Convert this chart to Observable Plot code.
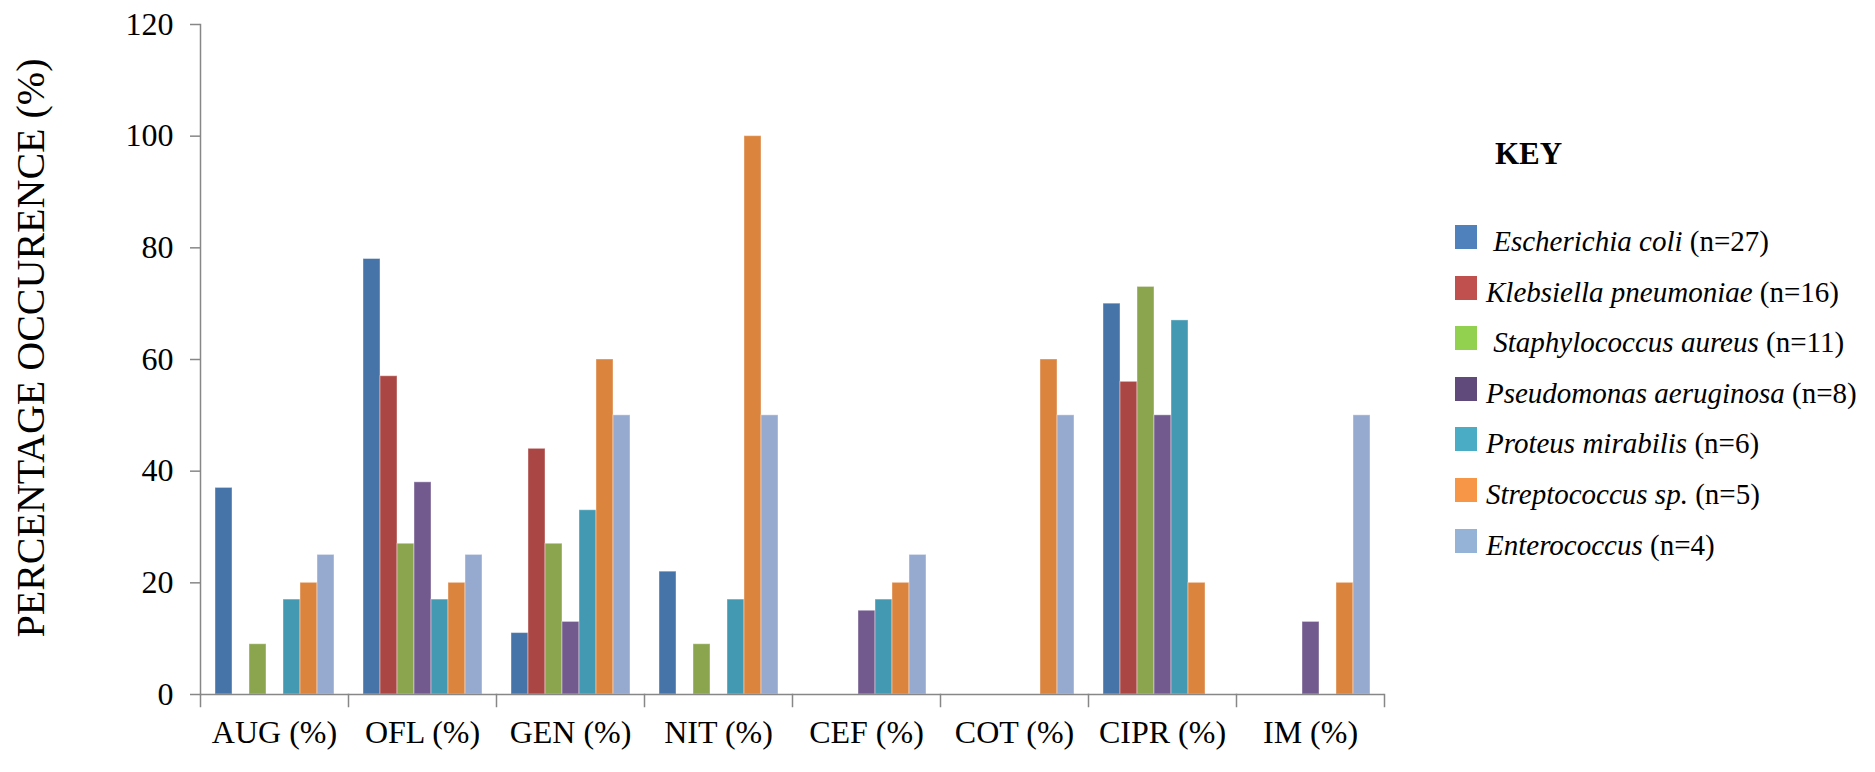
<!DOCTYPE html>
<html>
<head>
<meta charset="utf-8">
<script src="https://cdn.jsdelivr.net/npm/d3@7"></script>
<script src="https://cdn.jsdelivr.net/npm/@observablehq/plot@0.6"></script>
<style>
  html, body { margin: 0; padding: 0; background: #fff; }
  #wrap { position: relative; width: 1875px; height: 772px; font-family: "Liberation Serif", "Times New Roman", serif; color: #000; }
  #chart { position: absolute; left: 0; top: 0; }
  #ytitle { position: absolute; left: -289px; top: 328px; width: 640px; height: 40px; line-height: 40px;
            font-size: 40px; text-align: center; transform: rotate(-90deg); white-space: nowrap; }
  #key { position: absolute; left: 1495px; top: 138px; font-size: 31px; line-height: 31px; font-weight: bold; }
  .row { position: absolute; left: 1455px; height: 24px; display: flex; align-items: flex-start; white-space: pre; }
  .sw { width: 22px; height: 24px; flex: none; }
  .lbl { font-size: 29px; line-height: 24px; padding-top: 4px; margin-left: 9px; }
</style>
</head>
<body>
<div id="wrap">
  <div id="chart"></div>
  <div id="ytitle">PERCENTAGE OCCURENCE (%)</div>
  <div id="key">KEY</div>
  <div id="legend"></div>
</div>
<script>
// Antibiotic categories (x axis)
const categories = ["AUG (%)", "OFL (%)", "GEN (%)", "NIT (%)", "CEF (%)", "COT (%)", "CIPR (%)", "IM (%)"];
// Organisms (series) and their sample sizes
const species = ["Escherichia coli", "Klebsiella pneumoniae", "Staphylococcus aureus", "Pseudomonas aeruginosa", "Proteus mirabilis", "Streptococcus sp.", "Enterococcus"];
const sampleSizes = [27, 16, 11, 8, 6, 5, 4];
const legendPrefix = [" ", "", " ", "", "", "", ""];
// Percentage occurrence per antibiotic, one array per organism
const ecoli        = [37, 78, 11, 22, 0, 0, 70, 0];
const klebsiella   = [0, 57, 44, 0, 0, 0, 56, 0];
const staph        = [9, 27, 27, 9, 0, 0, 73, 0];
const pseudomonas  = [0, 38, 13, 0, 15, 0, 50, 13];
const proteus      = [17, 17, 33, 17, 17, 0, 67, 0];
const strep        = [20, 20, 60, 100, 20, 60, 20, 20];
const enterococcus = [25, 25, 50, 50, 25, 50, 0, 50];
const yTicks = [0, 20, 40, 60, 80, 100, 120];

const seriesValues = [ecoli, klebsiella, staph, pseudomonas, proteus, strep, enterococcus];
const barColors = ["#4674A8", "#AA4643", "#8BA54E", "#725A8E", "#4399B1", "#DB843D", "#96AACF"];
const keyColors = ["#4F81BD", "#C0504D", "#92D050", "#604A7B", "#4BACC6", "#F79646", "#95B3D7"];

const table = [];
species.forEach((s, j) => categories.forEach((c, i) => table.push({cat: c, species: s, value: seriesValues[j][i]})));

const W = 1875, H = 772, mL = 197, mR = 488, mT = 24, mB = 78;
const innerH = H - mT - mB;
const axisGray = "#878787";

const chart = Plot.plot({
  width: W, height: H,
  marginLeft: mL, marginRight: mR, marginTop: mT, marginBottom: mB,
  style: {fontFamily: "'Liberation Serif', 'Times New Roman', serif", background: "white", color: "black"},
  fx: {domain: categories, padding: 0, label: null},
  x: {domain: species, paddingInner: 0, paddingOuter: 0.75, axis: null},
  y: {domain: [0, 120], label: null},
  color: {domain: species, range: barColors},
  marks: [
    Plot.barY(table, {fx: "cat", x: "species", y: "value", fill: "species",
      filter: d => d.value > 0, stroke: "white", strokeOpacity: 0.4, strokeWidth: 1}),
    Plot.ruleY([0], {stroke: axisGray, strokeWidth: 1.5}),
    Plot.frame({anchor: "left", facetAnchor: "left", stroke: axisGray, strokeWidth: 1.5}),
    Plot.frame({anchor: "left", insetTop: innerH, insetBottom: -12, stroke: axisGray, strokeWidth: 1.5}),
    Plot.frame({anchor: "right", facetAnchor: "right", insetTop: innerH, insetBottom: -12, stroke: axisGray, strokeWidth: 1.5}),
    Plot.axisY({ticks: yTicks, tickSize: 10, tickPadding: 17, stroke: axisGray, strokeWidth: 1.5, fill: "black", fontSize: 32, label: null}),
    Plot.axisFx({anchor: "bottom", tickSize: 0, tickPadding: 26, fontSize: 32, fill: "black", label: null})
  ]
});
document.getElementById("chart").appendChild(chart);

const legend = document.getElementById("legend");
species.forEach((s, j) => {
  const row = document.createElement("div");
  row.className = "row";
  row.style.top = (225 + j * 50.6) + "px";
  const sw = document.createElement("div");
  sw.className = "sw";
  sw.style.background = keyColors[j];
  const lbl = document.createElement("div");
  lbl.className = "lbl";
  const em = document.createElement("i");
  em.textContent = legendPrefix[j] + s;
  lbl.appendChild(em);
  lbl.appendChild(document.createTextNode(" (n=" + sampleSizes[j] + ")"));
  row.appendChild(sw);
  row.appendChild(lbl);
  legend.appendChild(row);
});
</script>
</body>
</html>
